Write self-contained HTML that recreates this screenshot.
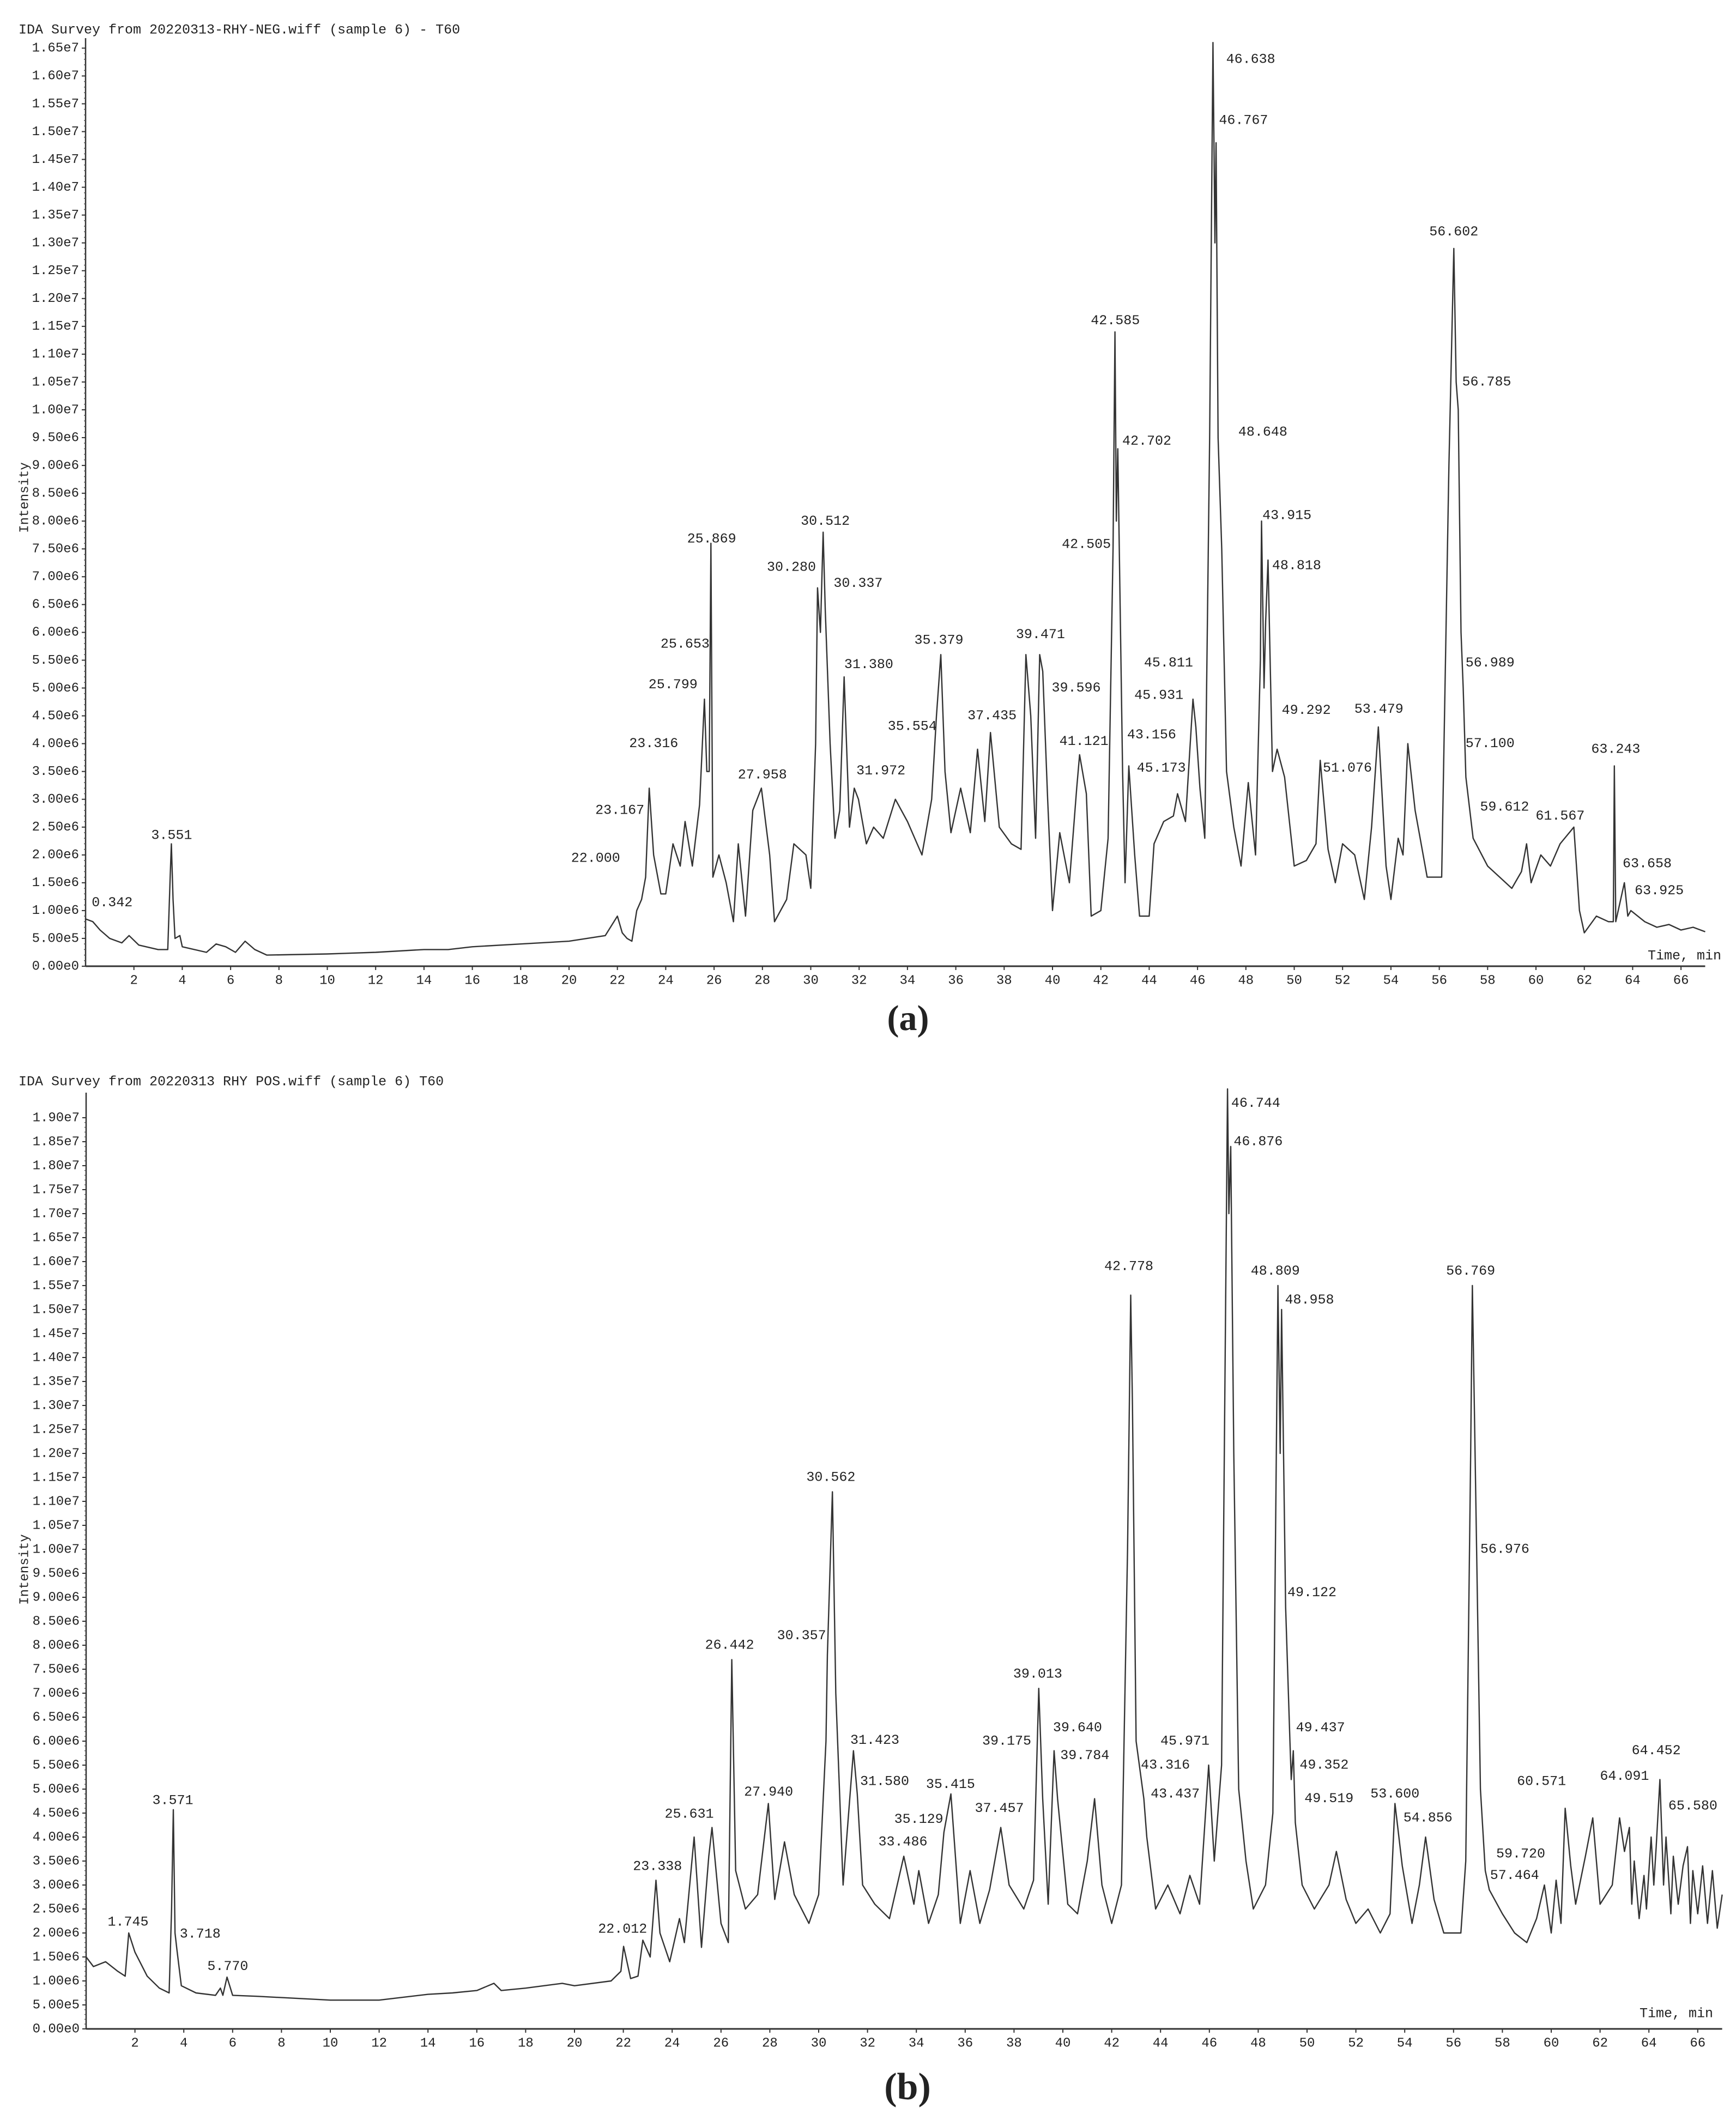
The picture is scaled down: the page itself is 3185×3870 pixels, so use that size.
<!DOCTYPE html>
<html><head><meta charset="utf-8"><style>
html,body{margin:0;padding:0;background:#fff;}
svg{display:block;}
text{font-family:"Liberation Mono",monospace;fill:#222;}
</style></head><body>
<svg id="chart" width="3185" height="3870" viewBox="0 0 3185 3870" xmlns="http://www.w3.org/2000/svg">
<rect width="3185" height="3870" fill="#fff"/>
<text x="34" y="55" font-size="25" dominant-baseline="middle">IDA Survey from 20220313-RHY-NEG.wiff (sample 6) - T60</text>
<text x="34" y="1985" font-size="25" dominant-baseline="middle">IDA Survey from 20220313 RHY POS.wiff (sample 6)   T60</text>
<text x="1666" y="1890" font-size="66" font-weight="bold" text-anchor="middle" style="font-family:'Liberation Serif',serif">(a)</text>
<text x="1665" y="3852" font-size="70" font-weight="bold" text-anchor="middle" style="font-family:'Liberation Serif',serif">(b)</text>
<g id="pa"></g>
<g id="pb"></g>
</svg>
<script>
// Panel (a) NEG: time (min) and intensity (x1e6)
const timeA = [0,0.3,0.6,1.0,1.5,1.8,2.2,3.0,3.4,3.5,3.55,3.62,3.7,3.9,4.0,5.0,5.4,5.8,6.2,6.6,7.0,7.5,10,12,14,15,16,18,20,21.5,22.0,22.2,22.4,22.6,22.8,23.0,23.167,23.316,23.5,23.8,24.0,24.3,24.6,24.8,25.1,25.4,25.6,25.7,25.8,25.869,25.95,26.2,26.5,26.8,27.0,27.3,27.6,27.958,28.3,28.5,29.0,29.3,29.8,30.0,30.2,30.28,30.4,30.512,30.6,30.8,31.0,31.2,31.38,31.6,31.8,31.972,32.3,32.6,33.0,33.5,34.0,34.6,35.0,35.2,35.379,35.554,35.8,36.2,36.6,36.9,37.2,37.435,37.8,38.3,38.7,38.9,39.1,39.3,39.471,39.596,39.8,40.0,40.3,40.7,41.0,41.121,41.4,41.6,42.0,42.3,42.505,42.585,42.64,42.702,42.9,43.0,43.156,43.4,43.6,44.0,44.2,44.6,45.0,45.173,45.5,45.811,45.931,46.1,46.3,46.5,46.638,46.72,46.767,46.85,47.0,47.2,47.5,47.8,48.1,48.4,48.6,48.648,48.75,48.818,48.915,49.1,49.292,49.6,50.0,50.5,50.9,51.076,51.4,51.7,52.0,52.5,52.9,53.2,53.479,53.8,54.0,54.3,54.5,54.7,55.0,55.5,56.1,56.4,56.602,56.7,56.785,56.9,56.989,57.1,57.4,58.0,58.5,59.0,59.4,59.612,59.8,60.2,60.6,61.0,61.567,61.8,62.0,62.5,63.0,63.2,63.243,63.3,63.658,63.8,63.925,64.5,65.0,65.5,66.0,66.5,67.0];
const intensityA = [0.85,0.8,0.65,0.5,0.42,0.55,0.38,0.3,0.3,1.6,2.2,1.2,0.5,0.55,0.35,0.25,0.4,0.35,0.25,0.45,0.3,0.2,0.22,0.25,0.3,0.3,0.35,0.4,0.45,0.55,0.9,0.6,0.5,0.45,1.0,1.2,1.6,3.2,2.0,1.3,1.3,2.2,1.8,2.6,1.8,2.9,4.8,3.5,3.5,7.6,1.6,2.0,1.5,0.8,2.2,0.9,2.8,3.2,2.0,0.8,1.2,2.2,2.0,1.4,4.0,6.8,6.0,7.8,6.4,4.0,2.3,2.8,5.2,2.5,3.2,3.0,2.2,2.5,2.3,3.0,2.6,2.0,3.0,4.5,5.6,3.5,2.4,3.2,2.4,3.9,2.6,4.2,2.5,2.2,2.1,5.6,4.5,2.3,5.6,5.3,3.0,1.0,2.4,1.5,3.2,3.8,3.1,0.9,1.0,2.3,7.5,11.4,8.0,9.3,3.5,1.5,3.6,2.0,0.9,0.9,2.2,2.6,2.7,3.1,2.6,4.8,4.3,3.2,2.3,9.5,16.6,13.0,14.8,9.5,7.5,3.5,2.5,1.8,3.3,2.0,5.5,8.0,5.0,6.2,7.3,3.5,3.9,3.4,1.8,1.9,2.2,3.7,2.1,1.5,2.2,2.0,1.2,2.5,4.3,1.8,1.2,2.3,2.0,4.0,2.8,1.6,1.6,9.0,12.9,10.5,10.0,6.0,5.0,3.4,2.3,1.8,1.6,1.4,1.7,2.2,1.5,2.0,1.8,2.2,2.5,1.0,0.6,0.9,0.8,0.8,3.6,0.8,1.5,0.9,1.0,0.8,0.7,0.75,0.65,0.7,0.62];
const peakLabelsA = ["0.342","3.551","22.000","23.167","23.316","25.799","25.653","25.869","27.958","30.280","30.512","30.337","31.380","31.972","35.554","35.379","37.435","39.471","39.596","41.121","42.505","42.585","42.702","43.156","45.173","45.931","45.811","46.638","46.767","48.648","43.915","48.818","49.292","51.076","53.479","56.602","56.785","56.989","57.100","59.612","61.567","63.243","63.658","63.925"];
const labelTimeA = [1.1,3.56,21.1,22.1,23.5,24.3,24.8,25.9,28.0,29.2,30.6,31.96,32.4,32.9,34.2,35.3,37.5,39.5,40.98,41.3,41.4,42.6,43.9,44.1,44.5,44.4,44.8,48.2,47.9,48.7,49.7,50.1,50.5,52.2,53.5,56.6,57.96,58.1,58.1,58.7,61.0,63.3,64.6,65.1];
const labelIntA = [1.14,2.35,1.94,2.8,4.0,5.06,5.79,7.68,3.44,7.17,8.0,6.88,5.42,3.51,4.31,5.86,4.5,5.96,5.0,4.04,7.58,11.6,9.44,4.16,3.56,4.87,5.45,16.3,15.2,9.6,8.1,7.2,4.6,3.56,4.62,13.2,10.5,5.45,4.0,2.86,2.7,3.9,1.84,1.36];

// Panel (b) POS
const timeB = [0,0.3,0.8,1.3,1.6,1.745,2.0,2.5,3.0,3.4,3.5,3.571,3.64,3.718,3.9,4.5,5.3,5.5,5.6,5.77,6.0,7,10,12,14,15,16,16.7,17,18,19.5,20,21.5,21.9,22.012,22.3,22.6,22.8,23.1,23.338,23.5,23.9,24.3,24.5,24.9,25.2,25.5,25.631,26.0,26.3,26.442,26.6,27.0,27.5,27.94,28.2,28.6,29.0,29.6,30.0,30.3,30.357,30.562,30.7,31.0,31.423,31.58,31.8,32.3,32.9,33.486,33.9,34.1,34.5,34.9,35.129,35.415,35.8,36.2,36.6,37.0,37.457,37.8,38.4,38.8,39.013,39.175,39.4,39.64,39.784,40.2,40.6,41.0,41.3,41.6,42.0,42.4,42.65,42.778,42.85,43.0,43.316,43.437,43.8,44.3,44.8,45.2,45.6,45.971,46.2,46.5,46.744,46.8,46.876,47.0,47.2,47.5,47.8,48.3,48.6,48.809,48.9,48.958,49.122,49.3,49.352,49.437,49.519,49.8,50.3,50.9,51.2,51.6,52.0,52.5,53.0,53.4,53.6,53.9,54.3,54.6,54.856,55.2,55.6,56.3,56.5,56.7,56.769,56.85,56.976,57.1,57.3,57.464,58.0,58.5,59.0,59.4,59.72,60.0,60.2,60.4,60.571,60.8,61.0,61.4,61.7,62.0,62.5,62.8,63.0,63.2,63.3,63.4,63.6,63.8,63.9,64.091,64.2,64.3,64.452,64.6,64.7,64.9,65.0,65.2,65.4,65.58,65.7,65.8,66.0,66.2,66.4,66.6,66.8,67.0];
const intensityB = [1.5,1.3,1.4,1.2,1.1,2.0,1.6,1.1,0.85,0.75,2.5,4.57,2.0,1.65,0.9,0.75,0.7,0.85,0.7,1.08,0.7,0.68,0.6,0.6,0.72,0.75,0.8,0.95,0.8,0.85,0.95,0.9,1.0,1.2,1.72,1.05,1.1,1.85,1.5,3.1,2.0,1.4,2.3,1.8,4.0,1.7,3.6,4.2,2.2,1.8,7.7,3.3,2.5,2.8,4.7,2.7,3.9,2.8,2.2,2.8,6.0,7.8,11.2,7.0,3.0,5.8,4.9,3.0,2.6,2.3,3.6,2.6,3.3,2.2,2.8,4.1,4.9,2.2,3.3,2.2,2.9,4.2,3.0,2.5,3.1,7.1,4.8,2.6,5.8,4.8,2.6,2.4,3.5,4.8,3.0,2.2,3.0,10.0,15.3,13.0,6.0,4.8,4.0,2.5,3.0,2.4,3.2,2.6,5.5,3.5,5.5,19.6,17.0,18.4,12.0,5.0,3.5,2.5,3.0,4.5,15.5,12.0,15.0,8.8,6.0,5.2,5.8,4.3,3.0,2.5,3.0,3.7,2.7,2.2,2.5,2.0,2.4,4.7,3.4,2.2,3.0,4.0,2.7,2.0,2.0,3.5,12.0,15.5,13.0,9.0,5.0,3.3,2.9,2.4,2.0,1.8,2.3,3.0,2.0,3.1,2.2,4.6,3.4,2.6,3.6,4.4,2.6,3.0,4.4,3.7,4.2,2.6,3.5,2.3,3.2,2.5,4.0,3.0,3.8,5.2,3.0,4.0,2.4,3.6,2.6,3.4,3.8,2.2,3.3,2.4,3.4,2.2,3.3,2.1,2.8];
const peakLabelsB = ["1.745","3.571","3.718","5.770","22.012","23.338","25.631","26.442","27.940","30.357","30.562","31.423","31.580","33.486","35.129","35.415","37.457","39.013","39.175","39.640","39.784","42.778","43.316","43.437","45.971","46.744","46.876","48.809","48.958","49.122","49.437","49.352","49.519","53.600","54.856","56.769","56.976","57.464","59.720","60.571","64.091","64.452","65.580"];
const labelTimeB = [1.72,3.55,4.67,5.8,21.97,23.4,24.7,26.35,27.95,29.3,30.5,32.3,32.7,33.45,34.1,35.4,37.4,38.97,37.7,40.6,40.9,42.7,44.2,44.6,45.0,47.9,48.0,48.7,50.1,50.2,50.55,50.7,50.9,53.6,54.95,56.7,58.1,58.5,58.75,59.6,63.0,64.3,65.8];
const labelIntB = [2.23,4.76,1.98,1.3,2.08,3.39,4.48,8.0,4.94,8.2,11.5,6.02,5.16,3.9,4.37,5.1,4.6,7.4,6.0,6.28,5.7,15.9,5.5,4.9,6.0,19.3,18.5,15.8,15.2,9.1,6.28,5.5,4.8,4.9,4.4,15.8,10.0,3.2,3.65,5.16,5.27,5.8,4.65];

const xTicks = [2,4,6,8,10,12,14,16,18,20,22,24,26,28,30,32,34,36,38,40,42,44,46,48,50,52,54,56,58,60,62,64,66];

const NS = "http://www.w3.org/2000/svg";
function mk(tag, attrs, parent){const e=document.createElementNS(NS,tag);for(const k in attrs)e.setAttribute(k,attrs[k]);parent.appendChild(e);return e;}

function drawPanel(g, cfg, times, ints, labels, lt, li, prefix){
  const X = t => cfg.x0 + t*cfg.ppm;
  const Y = v => cfg.yBase - v*cfg.ppu;
  // y axis
  let ax = mk('line',{x1:cfg.x0,y1:cfg.yBase,x2:cfg.x0,y2:cfg.yTop,stroke:'#333','stroke-width':2.5},g);
  
  
  let bx = mk('line',{x1:cfg.x0,y1:cfg.yBase,x2:X(67),y2:cfg.yBase,stroke:'#333','stroke-width':3},g);
  
  
  const nY = Math.round(cfg.yMax/0.5);
  for(let i=0;i<=nY;i++){
    const v=i*0.5, y=Y(v);
    const tk = mk('line',{x1:cfg.x0-7,y1:y,x2:cfg.x0,y2:y,stroke:'#333','stroke-width':2},g);
    
    
    const val=v*1e6;
    let s;
    if(val===0) s='0.00e0'; else {const e=Math.floor(Math.log10(val)+1e-9); s=(val/Math.pow(10,e)).toFixed(2)+'e'+e;}
    const tx = mk('text',{x:cfg.x0-12,y:y,'font-size':24,'text-anchor':'end','dominant-baseline':'middle'},g);
    tx.textContent=s;
    
    
    if(i<nY){
      for(let m=1;m<5;m++){
        const ym=Y(v+m*0.1);
        const mt = mk('line',{x1:cfg.x0-3,y1:ym,x2:cfg.x0,y2:ym,stroke:'#555','stroke-width':1.5},g);
        
        
      }
    }
  }
  for(const t of xTicks){
    const x=X(t);
    const tk = mk('line',{x1:x,y1:cfg.yBase,x2:x,y2:cfg.yBase+7,stroke:'#333','stroke-width':2},g);
    
    
    const tx = mk('text',{x:x,y:cfg.yBase+26,'font-size':24,'text-anchor':'middle','dominant-baseline':'middle'},g);
    tx.textContent=String(t);
    
    
  }
  const tl = mk('text',{x:cfg.timeX,y:cfg.timeY,'font-size':25,'dominant-baseline':'middle'},g);
  tl.textContent='Time, min';
  
  
  const il = mk('text',{x:0,y:0,'font-size':24,'text-anchor':'middle','dominant-baseline':'middle',transform:'translate(45,'+cfg.intY+') rotate(-90)'},g);
  il.textContent='Intensity';
  
  
  let d='';
  for(let i=0;i<times.length;i++){d+=(i?'L':'M')+X(times[i]).toFixed(1)+' '+Y(ints[i]).toFixed(1);}
  const p = mk('path',{d:d,fill:'none',stroke:'#333','stroke-width':2.4,'stroke-linejoin':'round'},g);
  
  
  for(let i=0;i<labels.length;i++){
    const tx = mk('text',{x:X(lt[i]),y:Y(li[i]),'font-size':25,'text-anchor':'middle','dominant-baseline':'middle'},g);
    tx.textContent=labels[i];
    
    
  }
}
drawPanel(document.getElementById('pa'),{x0:157,ppm:44.35,yBase:1773,ppu:102.1,yMax:16.5,yTop:70,timeX:3023,timeY:1754,intY:913},timeA,intensityA,peakLabelsA,labelTimeA,labelIntA,'panel-a');
drawPanel(document.getElementById('pb'),{x0:158,ppm:44.8,yBase:3723,ppu:88.0,yMax:19.0,yTop:2005,timeX:3008,timeY:3695,intY:2880},timeB,intensityB,peakLabelsB,labelTimeB,labelIntB,'panel-b');
</script>
</body></html>
